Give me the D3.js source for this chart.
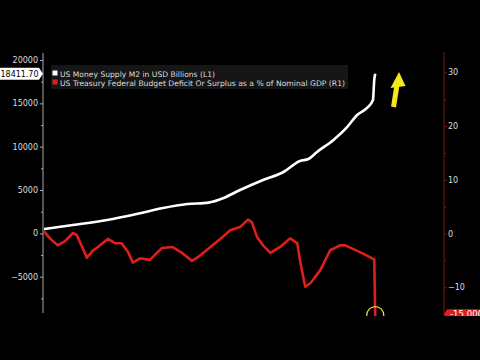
<!DOCTYPE html>
<html lang="en">
<head>
  <meta charset="UTF-8" />
  <title>M2 vs Federal Budget Deficit</title>
  <style>
    body { margin: 0; background: black; overflow: hidden; }
    svg { display: block; }
    text { font-family: "DejaVu Sans", sans-serif; }
  </style>
</head>
<body>
<svg width="480" height="360"></svg>
<script src="https://d3js.org/d3.v7.min.js"></script>
<script>
// M2 money supply, USD billions (left axis)
const m2Years  = [1970, 1974.4, 1979.6, 1984.1, 1988.1, 1991.8, 1995.0, 1997.3, 1999.8, 2003.3, 2006.4, 2008.9, 2010.2, 2011.5, 2014.0, 2016.1, 2017.6, 2019.1, 2020.0, 2020.2, 2020.35];
const m2Values = [500, 960, 1540, 2230, 2920, 3380, 3550, 4080, 5000, 6155, 7080, 8350, 8580, 9390, 10780, 12280, 13660, 14470, 15390, 17700, 18411.7];

// Budget deficit/surplus as % of GDP (right axis)
const defYears  = [1970, 1970.9, 1972.1, 1973.2, 1974.4, 1975.0, 1976.2, 1976.5, 1977.5, 1978.2, 1979.7, 1980.8, 1981.8, 1982.8, 1983.5, 1984.6, 1986.1, 1987.9, 1989.5, 1991.0, 1992.5, 1993.4, 1995.3, 1996.8, 1998.3, 1999.8, 2001.0, 2001.6, 2002.4, 2003.3, 2004.4, 2005.9, 2007.4, 2008.5, 2008.9, 2009.7, 2010.5, 2010.9, 2012.0, 2013.5, 2015.0, 2015.8, 2018.1, 2020.2, 2020.35];
const defValues = [0.4, -0.9, -2.2, -1.4, 0.1, -0.3, -3.6, -4.5, -3.1, -2.5, -1.0, -1.8, -1.8, -3.5, -5.4, -4.6, -4.9, -2.7, -2.5, -3.6, -5.1, -4.4, -2.5, -1.0, 0.6, 1.2, 2.6, 2.1, -0.7, -2.2, -3.6, -2.5, -0.9, -1.8, -4.9, -9.9, -9.2, -8.6, -6.8, -3.1, -2.2, -2.2, -3.5, -4.8, -16];

const leftTicks = [-5000, 0, 5000, 10000, 15000, 20000];
const rightTicks = [-10, 0, 10, 20, 30];
const legendLabels = [
  "US Money Supply M2 in USD Billions (L1)",
  "US Treasury Federal Budget Deficit Or Surplus as a % of Nominal GDP (R1)"
];
const lastM2 = "18411.70";
const lastDef = "-15.000";

const svg = d3.select("svg");

const x = d3.scaleLinear().domain([1970, 2030.8]).range([44, 444]);
const yL = d3.scaleLinear().domain([-5000, 20000]).range([276.7, 60]);
const yR = d3.scaleLinear().domain([-10, 30]).range([287.3, 72.3]);

const defs = svg.append("defs");
defs.append("clipPath").attr("id", "plot")
  .append("rect").attr("x", 44).attr("y", 40).attr("width", 400).attr("height", 276);
defs.append("clipPath").attr("id", "rclip")
  .append("rect").attr("x", 440).attr("y", 300).attr("width", 40).attr("height", 16);

// left axis
const gL = svg.append("g").attr("transform", "translate(43,0)");
gL.call(d3.axisLeft(yL).tickValues(leftTicks).tickSize(3).tickPadding(2).tickFormat(d3.format("d")));
gL.append("g").call(d3.axisLeft(yL).tickValues(d3.range(-7500, 20001, 2500).filter(v => v % 5000 !== 0)).tickSize(2).tickFormat(""));
gL.selectAll(".domain").remove();
gL.selectAll("line").attr("stroke", "#aaa");
gL.append("line").attr("y1", 53).attr("y2", 313).attr("stroke", "#aaa");
gL.selectAll("text").attr("fill", "#ddd").attr("font-size", 8);

// right axis
const gR = svg.append("g").attr("transform", "translate(444,0)");
gR.call(d3.axisRight(yR).tickValues(rightTicks).tickSize(3).tickPadding(1));
gR.append("g").call(d3.axisRight(yR).tickValues([-5, 5, 15, 25]).tickSize(2).tickFormat(""));
gR.selectAll(".domain").remove();
gR.selectAll("line").attr("stroke", "#7a1a1a");
gR.append("line").attr("y1", 52).attr("y2", 316).attr("stroke", "#6a1212").attr("stroke-width", 1.2);
gR.selectAll("text").attr("fill", "#ddd").attr("font-size", 8);

const plot = svg.append("g").attr("clip-path", "url(#plot)");

plot.append("path")
  .datum(defYears.map((d, i) => [d, defValues[i]]))
  .attr("fill", "none").attr("stroke", "#e01e1a").attr("stroke-width", 2.6)
  .attr("stroke-linejoin", "round")
  .attr("d", d3.line().x(d => x(d[0])).y(d => yR(d[1])));

plot.append("path")
  .datum(m2Years.map((d, i) => [d, m2Values[i]]))
  .attr("fill", "none").attr("stroke", "white").attr("stroke-width", 2.6)
  .attr("stroke-linejoin", "round")
  .attr("d", d3.line().curve(d3.curveMonotoneX).x(d => x(d[0])).y(d => yL(d[1])));

// yellow circle on last deficit point
plot.append("circle")
  .attr("cx", x(2020.35)).attr("cy", yR(-15) + 1).attr("r", 8.5)
  .attr("fill", "none").attr("stroke", "#e8d44a").attr("stroke-width", 1.3);

// yellow arrow
svg.append("line").attr("x1", 393.5).attr("y1", 107).attr("x2", 397).attr("y2", 85)
  .attr("stroke", "#f2e81a").attr("stroke-width", 5);
svg.append("path").attr("d", "M399,72 L390.5,88 L405.5,86 Z").attr("fill", "#f2e81a");

// legend
const lg = svg.append("g");
lg.append("rect").attr("x", 51).attr("y", 65).attr("width", 297).attr("height", 24).attr("fill", "#161616");
const lens = [155, 285];
legendLabels.forEach((t, i) => {
  lg.append("rect").attr("x", 52.5).attr("y", 70.5 + i * 9).attr("width", 5).attr("height", 5)
    .attr("fill", i === 0 ? "white" : "#e01e1a");
  lg.append("text").attr("x", 60).attr("y", 76.5 + i * 9).attr("fill", "#ddd")
    .attr("font-size", 7.6).attr("textLength", lens[i]).attr("lengthAdjust", "spacingAndGlyphs").text(t);
});

// last value labels
const yl = yL(18411.7);
svg.append("path")
  .attr("d", `M-2,${yl - 6} L39,${yl - 6} L43,${yl} L39,${yl + 6} L-2,${yl + 6} Z`)
  .attr("fill", "white");
svg.append("text").attr("x", 0.5).attr("y", yl + 3).attr("fill", "black").attr("font-size", 8)
  .attr("textLength", 38).attr("lengthAdjust", "spacingAndGlyphs").text(lastM2);

const yr = yR(-15);
const rl = svg.append("g").attr("clip-path", "url(#rclip)");
rl.append("path")
  .attr("d", `M444,${yr} L447,${yr - 5} L480,${yr - 5} L480,${yr + 6} L447,${yr + 6} Z`)
  .attr("fill", "#e01e1a");
rl.append("text").attr("x", 450).attr("y", yr + 3).attr("fill", "white").attr("font-size", 8.6).text(lastDef);
</script>
</body>
</html>
